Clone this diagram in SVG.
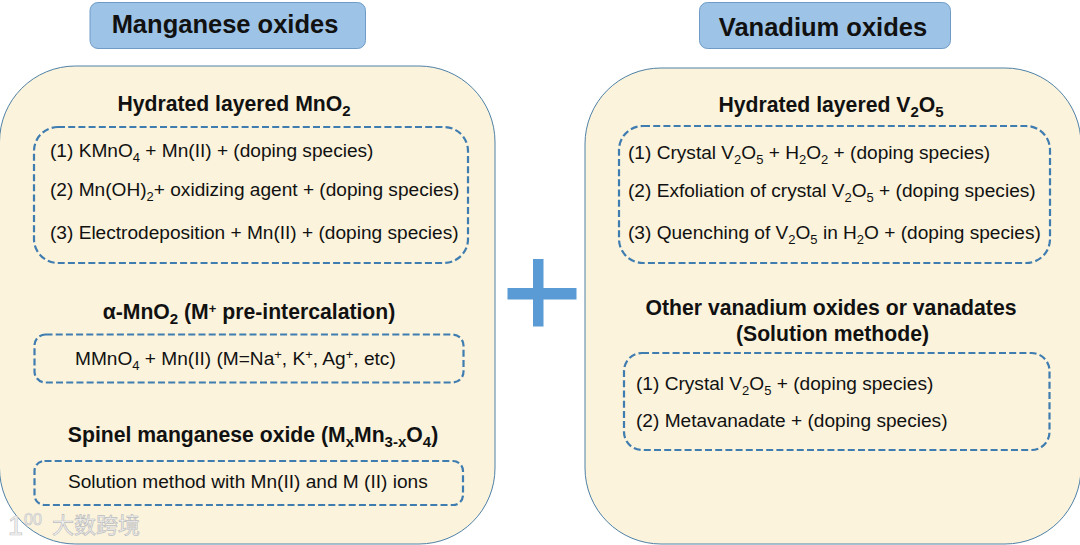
<svg xmlns="http://www.w3.org/2000/svg" width="1080" height="545" viewBox="0 0 1080 545">
<style>
text{font-family:"Liberation Sans",Arial,sans-serif;fill:#111}
.h{font-size:25.500px;font-weight:700;text-anchor:middle}
.t{font-size:21.200px;font-weight:700;text-anchor:middle}
.b{font-size:19.100px}
.s{font-size:13px}
.ts{font-size:15px}
.p{fill:#fbf3dc;stroke:#4f81a6;stroke-width:1}
.d{fill:none;stroke:#3f7cb0;stroke-width:2.2;stroke-dasharray:7 3.2}
.c{fill:#9dc3e6;stroke:#6f9cc6;stroke-width:1}
</style>
<rect width="1080" height="545" fill="#fff"/>
<g id="manganese-header"><rect class="c" x="90" y="2.500" width="275.500" height="46" rx="8"/><text class="h" x="225" y="33">Manganese oxides</text></g>
<g id="vanadium-header"><rect class="c" x="699.500" y="2.500" width="251" height="46" rx="8"/><text class="h" x="823" y="36">Vanadium oxides</text></g>
<g id="manganese-panel">
<rect class="p" x="-0.500" y="66" width="495.500" height="478" rx="76"/>
<text class="t" x="234" y="111">Hydrated layered MnO<tspan class="ts" dy="5">2</tspan></text>
<rect class="d" x="34" y="127" width="434" height="136" rx="24"/>
<text class="b" x="50" y="157">(1) KMnO<tspan class="s" dy="5">4</tspan><tspan dy="-5"> + Mn(II) + (doping species)</tspan></text>
<text class="b" x="50" y="196">(2) Mn(OH)<tspan class="s" dy="5">2</tspan><tspan dy="-5">+ oxidizing agent + (doping species)</tspan></text>
<text class="b" x="50" y="239">(3) Electrodeposition + Mn(II) + (doping species)</text>
<text class="t" x="249" y="319">α-MnO<tspan class="ts" dy="5">2</tspan><tspan dy="-5"> (M</tspan><tspan class="s" dy="-6">+</tspan><tspan dy="6"> pre-intercalation)</tspan></text>
<rect class="d" x="34.500" y="334.500" width="429" height="48" rx="11"/>
<text class="b" x="75" y="365">MMnO<tspan class="s" dy="5">4</tspan><tspan dy="-5"> + Mn(II) (M=Na</tspan><tspan class="s" dy="-6">+</tspan><tspan dy="6">, K</tspan><tspan class="s" dy="-6">+</tspan><tspan dy="6">, Ag</tspan><tspan class="s" dy="-6">+</tspan><tspan dy="6">, etc)</tspan></text>
<text class="t" x="253" y="442">Spinel manganese oxide (M<tspan class="ts" dy="5">x</tspan><tspan dy="-5">Mn</tspan><tspan class="ts" dy="5">3-x</tspan><tspan dy="-5">O</tspan><tspan class="ts" dy="5">4</tspan><tspan dy="-5">)</tspan></text>
<rect class="d" x="34.500" y="461" width="428.500" height="44" rx="10"/>
<text class="b" x="68" y="488">Solution method with Mn(II) and M (II) ions</text>
</g>
<g id="plus"><path d="M533 259h10.500v29h33v11.500h-33v27h-10.500v-27h-25.500v-11.500h25.500z" fill="#5b9bd5"/></g>
<g id="vanadium-panel">
<rect class="p" x="585" y="68" width="496" height="476" rx="76"/>
<text class="t" x="831" y="112">Hydrated layered V<tspan class="ts" dy="5">2</tspan><tspan dy="-5">O</tspan><tspan class="ts" dy="5">5</tspan></text>
<rect class="d" x="619" y="126" width="431" height="137" rx="24"/>
<text class="b" x="628" y="159">(1) Crystal V<tspan class="s" dy="5">2</tspan><tspan dy="-5">O</tspan><tspan class="s" dy="5">5</tspan><tspan dy="-5"> + H</tspan><tspan class="s" dy="5">2</tspan><tspan dy="-5">O</tspan><tspan class="s" dy="5">2</tspan><tspan dy="-5"> + (doping species)</tspan></text>
<text class="b" x="628" y="197">(2) Exfoliation of crystal V<tspan class="s" dy="5">2</tspan><tspan dy="-5">O</tspan><tspan class="s" dy="5">5</tspan><tspan dy="-5"> + (doping species)</tspan></text>
<text class="b" x="628" y="239">(3) Quenching of V<tspan class="s" dy="5">2</tspan><tspan dy="-5">O</tspan><tspan class="s" dy="5">5</tspan><tspan dy="-5"> in H</tspan><tspan class="s" dy="5">2</tspan><tspan dy="-5">O + (doping species)</tspan></text>
<text class="t" x="831" y="315">Other vanadium oxides or vanadates</text>
<text class="t" x="832.500" y="341">(Solution methode)</text>
<rect class="d" x="624" y="353" width="425.500" height="97" rx="18"/>
<text class="b" x="636" y="390">(1) Crystal V<tspan class="s" dy="5">2</tspan><tspan dy="-5">O</tspan><tspan class="s" dy="5">5</tspan><tspan dy="-5"> + (doping species)</tspan></text>
<text class="b" x="636" y="427">(2) Metavanadate + (doping species)</text>
</g>
<g id="watermark">
<text x="8" y="535" style="font-size:27px;fill:#f4f4f4;stroke:#c8c8c8;stroke-width:.7">1</text>
<text x="24" y="525" style="font-size:16px;fill:#f4f4f4;stroke:#c8c8c8;stroke-width:.7">00</text>
<text x="52" y="533" style="font-size:22px;font-family:'Noto Sans CJK SC',sans-serif;fill:#f4f4f4;stroke:#bdbdbd;stroke-width:.7">大数跨境</text>
</g>
</svg>
